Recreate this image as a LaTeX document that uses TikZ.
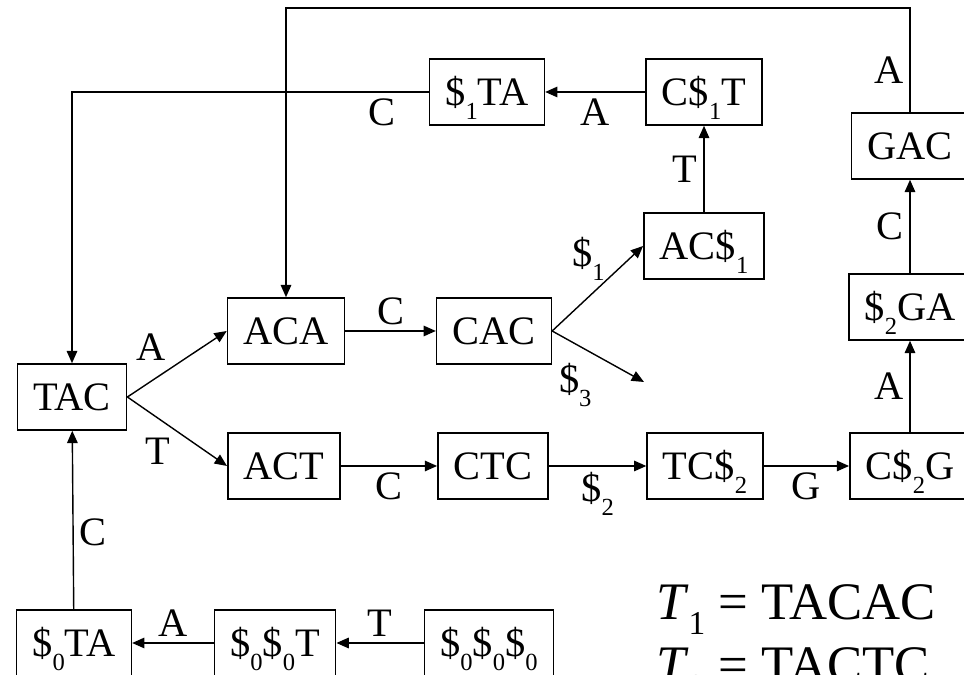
\documentclass[tikz,border=0pt]{standalone}
\usepackage{fontspec}
\setmainfont{Liberation Serif}
\usetikzlibrary{arrows.meta}

\newcommand{\dol}[1]{\$\raisebox{-8pt}[0pt][0pt]{\fontsize{14}{14}\selectfont #1}}
\newcommand{\tsub}[1]{\textit{T}\raisebox{-8.5pt}[0pt][0pt]{\fontsize{19}{19}\selectfont #1}}

\begin{document}
\begin{tikzpicture}[x=0.02cm, y=0.02cm,
		every node/.style={font=\fontsize{23}{27}\selectfont},
		box/.style={draw, line width=0.9pt, minimum height=1.32cm, inner xsep=9pt},
		arr/.style={-{Triangle[length=7pt,width=6pt]}, line width=0.8pt}]
		
		\path[use as bounding box, clip] (0,0) rectangle (964,675);
		
		% Nodos
		\node[box] (TAC) at (72,278) {TAC};
		\node[box] (ACA) at (286,344) {ACA};
		\node[box] (CAC) at (494,344) {CAC};
		\node[box] (ACs1) at (704,429) {AC\dol{1}};
		\node[box] (Cs1T) at (704,583) {C\dol{1}T};
		\node[box] (s1TA) at (487,583) {\dol{1}TA};
		\node[box] (GAC) at (910,529) {GAC};
		\node[box] (s2GA) at (910,368) {\dol{2}GA};
		\node[box] (Cs2G) at (910,209) {C\dol{2}G};
		\node[box] (ACT) at (284,209) {ACT};
		\node[box] (CTC) at (493,209) {CTC};
		\node[box] (TCs2) at (705,209) {TC\dol{2}};
		\node[box] (s0TA) at (74,32) {\dol{0}TA};
		\node[box] (s00T) at (275,32) {\dol{0}\dol{0}T};
		\node[box] (s000) at (489,32) {\dol{0}\dol{0}\dol{0}};
		
		\coordinate (fin3) at (644,293);
		\coordinate (arriba) at (0,667);
		
		% Aristas
		\draw[arr] (TAC.east) -- node[above left, pos=0.45] {A} (ACA.west);
		\draw[arr] (TAC.east) -- node[below left, pos=0.5] {T} (ACT.west);
		\draw[arr] (ACA) -- node[above] {C} (CAC);
		\draw[arr] (CAC.east) -- node[above left, pos=0.65] {\dol{1}} (ACs1.west);
		\draw[arr] (CAC.east) -- node[below left, pos=0.5] {\dol{3}} (fin3);
		\draw[arr] (ACs1) -- node[left] {T} (Cs1T);
		\draw[arr] (Cs1T) -- node[below] {A} (s1TA);
		\draw[arr] (s1TA.west) -| node[below, pos=0.065] {C} (TAC.north);
		\draw[arr] (ACT) -- node[below] {C} (CTC);
		\draw[arr] (CTC) -- node[below] {\dol{2}} (TCs2);
		\draw[arr] (TCs2) -- node[below] {G} (Cs2G);
		\draw[arr] (Cs2G) -- node[left] {A} (s2GA);
		\draw[arr] (s2GA) -- node[left] {C} (GAC);
		\draw[arr] (GAC.north) -- node[left, pos=0.4] {A} (GAC.north |- arriba) -| (ACA.north);
		\draw[arr] (s000) -- node[above] {T} (s00T);
		\draw[arr] (s00T) -- node[above] {A} (s0TA);
		\draw[arr] (s0TA) -- node[right, pos=0.43] {C} (TAC);
		
		% Textos
		\node[anchor=base west, font=\fontsize{30}{36}\selectfont] (T1) at (650,55) {\tsub{1} = TACAC};
		\node[anchor=base west, font=\fontsize{30}{36}\selectfont] (T2) at (650,-8) {\tsub{2} = TACTC};
		
	\end{tikzpicture}
\end{document}
